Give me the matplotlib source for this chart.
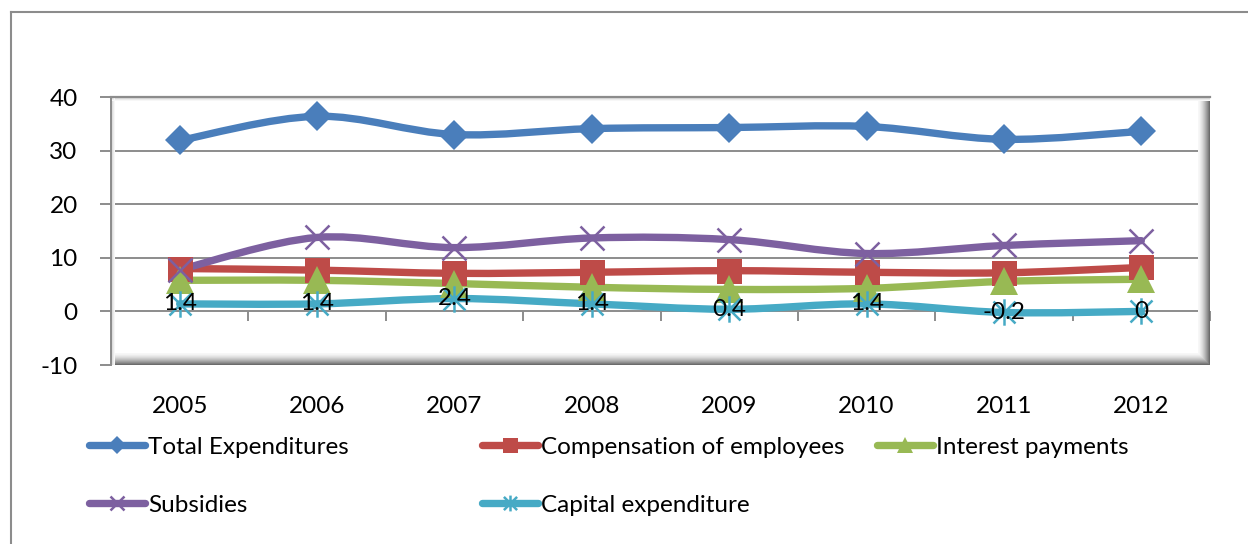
import matplotlib
matplotlib.use("Agg")
import matplotlib.pyplot as plt
from matplotlib.path import Path
from matplotlib.patches import PathPatch, Rectangle
from matplotlib.lines import Line2D
import numpy as np

plt.rcParams['font.family'] = ['Lato', 'DejaVu Sans']
plt.rcParams['axes.unicode_minus'] = False

years = ["2005", "2006", "2007", "2008", "2009", "2010", "2011", "2012"]
total_exp = [31.9, 36.4, 33.0, 34.1, 34.3, 34.5, 32.1, 33.6]
compensation = [8.0, 7.7, 7.1, 7.3, 7.6, 7.3, 7.2, 8.2]
interest = [5.8, 5.8, 5.2, 4.5, 4.1, 4.3, 5.6, 6.0]
subsidies = [7.8, 13.8, 11.9, 13.7, 13.4, 10.8, 12.3, 13.2]
capital = [1.4, 1.4, 2.4, 1.4, 0.4, 1.4, -0.2, 0]
capital_labels = ["1.4", "1.4", "2.4", "1.4", "0.4", "1.4", "-0.2", "0"]

# excel-ish star: an x with a vertical bar through it
star = Path([(-1, -1), (1, 1), (-1, 1), (1, -1), (0, -1.2), (0, 1.2)],
            [Path.MOVETO, Path.LINETO, Path.MOVETO, Path.LINETO, Path.MOVETO, Path.LINETO])

series = [
    ("Total Expenditures", total_exp, "#4A7EBB", "D", 15),
    ("Compensation of employees", compensation, "#BE4B48", "s", 18),
    ("Interest payments", interest, "#98B954", "^", 20),
    ("Subsidies", subsidies, "#7D60A0", "x", 17),
    ("Capital expenditure", capital, "#46AAC5", star, 19),
]

FS = 17.5
LW = 5.3


def smooth_path(xs, ys):
    # bezier segments through the points, like excel's smoothed line
    pts = np.column_stack([xs, ys]).astype(float)
    n = len(pts)
    verts = [pts[0]]
    codes = [Path.MOVETO]
    for i in range(n - 1):
        p0 = pts[max(i - 1, 0)]
        p1 = pts[i]
        p2 = pts[i + 1]
        p3 = pts[min(i + 2, n - 1)]
        verts += [p1 + (p2 - p0) / 6, p2 - (p3 - p1) / 6, p2]
        codes += [Path.CURVE4] * 3
    return Path(verts, codes)


fig = plt.figure(figsize=(12.48, 5.44), dpi=100)
W, H = 1248, 544
ax = fig.add_axes([111 / W, 1 - 365 / H, (1210 - 111) / W, (365 - 97) / H])

x = np.arange(len(years))
ax.set_xlim(-0.5, len(years) - 0.5)
ax.set_ylim(-10, 40)
ax.set_yticks([-10, 0, 10, 20, 30, 40])
ax.yaxis.grid(True, color="#8C8C8C", linewidth=1.4)
ax.set_axisbelow(True)
ax.tick_params(axis="y", length=8, width=1.4, color="#8C8C8C", pad=16, labelsize=FS)
ax.set_xticks(x)
ax.set_xticklabels(years)
ax.tick_params(axis="x", length=0, pad=22, labelsize=FS)
for s in ["top", "right", "bottom"]:
    ax.spines[s].set_visible(False)
ax.spines["left"].set_color("#8C8C8C")
ax.spines["left"].set_linewidth(1.4)

# category ticks on the zero line
sec = ax.secondary_xaxis(10 / 50)
sec.set_xticks(np.arange(len(years) + 1) - 0.5)
sec.set_xticklabels([])
sec.tick_params(axis="x", length=7, width=1.4, color="#8C8C8C", direction="out")
sec.spines["bottom"].set_visible(False)

# bevelled plot-area frame
axw = (1210 - 111)
axh = (365 - 97)
for k in range(12):
    g = 0.97 - 0.55 * (k / 11) ** 1.5
    ax.add_patch(Rectangle((1 - (12 - k) / axw, 0), 1 / axw, 1, transform=ax.transAxes,
                           color=str(g), lw=0, zorder=1.5, clip_on=False))
    ax.add_patch(Rectangle((0, (11 - k) / axh), 1, 1 / axh, transform=ax.transAxes,
                           color=str(g), lw=0, zorder=1.5, clip_on=False))
for k in range(4):
    g = 0.82 + 0.05 * k
    ax.add_patch(Rectangle((k / axw, 0), 1 / axw, 1, transform=ax.transAxes,
                           color=str(g), lw=0, zorder=1.5, clip_on=False))
    ax.add_patch(Rectangle((0, 1 - (k + 1) / axh), 1, 1 / axh, transform=ax.transAxes,
                           color=str(g), lw=0, zorder=1.5, clip_on=False))
ax.plot([0, 1], [1, 1], transform=ax.transAxes, color="#8C8C8C", lw=1.6, clip_on=False, zorder=1.6)

handles = []
for name, vals, col, mk, ms in series:
    ax.add_patch(PathPatch(smooth_path(x, vals), facecolor="none", edgecolor=col,
                           lw=LW, capstyle="round", joinstyle="round", zorder=3))
    mew = 1.8 if (mk == "x" or mk is star) else 0
    ax.plot(x, vals, linestyle="none", marker=mk, markersize=ms, color=col,
            markeredgecolor=col, markeredgewidth=mew, zorder=4)
    handles.append(Line2D([], [], color=col, lw=LW, marker=mk, markersize=ms * 0.6,
                          markeredgecolor=col, markeredgewidth=mew, solid_capstyle="round"))

for xi, v, lab in zip(x, capital, capital_labels):
    ax.text(xi, v, lab, ha="center", va="center", fontsize=FS, color="black", zorder=5)

# legend, one entry at a time so the columns sit where excel put them
legend_pos = [(89, 447), (482, 447), (877, 447), (89, 505), (482, 505)]
for h, (name, *_), (px, py) in zip(handles, series, legend_pos):
    fig.legend([h], [name], loc="center left", bbox_to_anchor=(px / W, 1 - py / H),
               frameon=False, fontsize=FS, handlelength=2.3, handletextpad=0.12,
               borderpad=0, borderaxespad=0)

# outer chart border
fig.add_artist(Line2D([11 / W, 11 / W], [0, 1 - 12 / H], color="#8C8C8C", lw=1.5))
fig.add_artist(Line2D([11 / W, 1], [1 - 12 / H, 1 - 12 / H], color="#8C8C8C", lw=1.5))

fig.savefig("out.png", dpi=100)
